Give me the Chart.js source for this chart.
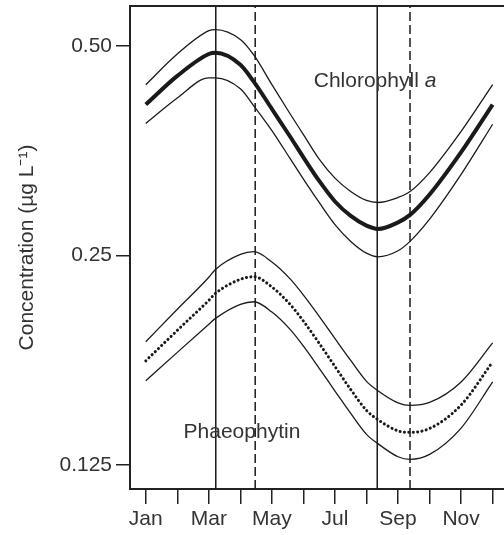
<!DOCTYPE html>
<html><head><meta charset="utf-8">
<script src="https://cdn.jsdelivr.net/npm/chart.js@4/dist/chart.umd.min.js"></script>
<style>html,body{margin:0;padding:0;background:#fff;} #wrap{width:504px;height:535px;position:relative;}</style>
</head><body><div id="wrap"><canvas id="c"></canvas></div>
<script>
// x positions in months (1 = Jan ... 12 = Dec)
const months = [1,2,3,3.21,4,4.43,5,5.57,6,6.5,7,7.5,8,8.36,9,9.38,10,11,12];
const chlMean  = [0.412,0.453,0.487,0.489,0.470,0.444,0.406,0.371,0.346,0.320,0.299,0.285,0.276,0.273,0.279,0.286,0.306,0.352,0.412];
const chlUpper = [0.440,0.487,0.526,0.528,0.511,0.485,0.440,0.400,0.373,0.344,0.323,0.309,0.300,0.298,0.303,0.309,0.329,0.377,0.440];
const chlLower = [0.387,0.421,0.450,0.450,0.434,0.410,0.378,0.345,0.322,0.298,0.277,0.262,0.252,0.249,0.254,0.262,0.282,0.327,0.386];
const phMean  = [0.1765,0.1952,0.2156,0.2206,0.2311,0.2331,0.2253,0.2129,0.2013,0.1870,0.1732,0.1605,0.1498,0.1453,0.1400,0.1393,0.1411,0.1525,0.1759];
const phUpper = [0.1880,0.2093,0.2327,0.2388,0.2510,0.2532,0.2447,0.2316,0.2194,0.2045,0.1900,0.1767,0.1649,0.1599,0.1536,0.1523,0.1538,0.1646,0.1873];
const phLower = [0.1652,0.1815,0.1992,0.2031,0.2128,0.2146,0.2074,0.1960,0.1853,0.1722,0.1597,0.1483,0.1384,0.1342,0.1285,0.1274,0.1295,0.1413,0.1646];
const solidLines  = [3.22, 8.34];   // chlorophyll a max / min
const dashedLines = [4.47, 9.38];   // phaeophytin max / min
const tickMonths = [1,2,3,4,5,6,7,8,9,10,11,12];
const monthNames = ['Jan','','Mar','','May','','Jul','','Sep','','Nov',''];
const yTicks = [0.125, 0.25, 0.5];
const yTickLabels = ['0.125','0.25','0.50'];
const X_MIN = 0.5, X_MAX = 12.36, Y_MIN = 0.1155, Y_MAX = 0.5708;

const FONT = '"Liberation Sans", Arial, Helvetica, sans-serif';
const INK = '#1a1a1a', TXT = '#333';

const pts = arr => arr.map((v,i) => ({x: months[i], y: v}));
const vline = x => [{x, y: Y_MIN}, {x, y: Y_MAX}];
const curve = (data, w, extra) => Object.assign({data: pts(data), borderColor: INK, borderWidth: w,
  pointRadius: 0, fill: false, tension: 0.4, cubicInterpolationMode: 'monotone',
  borderJoinStyle: 'round'}, extra || {});

const datasets = [
  ...solidLines.map(x => ({data: vline(x), borderColor: INK, borderWidth: 1.5, pointRadius: 0, tension: 0})),
  ...dashedLines.map(x => ({data: vline(x), borderColor: INK, borderWidth: 1.5, pointRadius: 0, tension: 0, borderDash: [9,4]})),
  curve(chlUpper, 1.3), curve(chlLower, 1.3), curve(chlMean, 4),
  curve(phUpper, 1.3), curve(phLower, 1.3),
  curve(phMean, 3, {borderDash: [0.1, 4.3], borderCapStyle: 'round'})
];

const annot = {
  id: 'annot',
  afterDraw(chart) {
    const {ctx, chartArea, scales} = chart;
    ctx.save();
    ctx.strokeStyle = '#222'; ctx.lineWidth = 2;
    ctx.beginPath(); ctx.moveTo(chartArea.left - 1, chartArea.top); ctx.lineTo(chartArea.right, chartArea.top); ctx.stroke();
    ctx.fillStyle = TXT; ctx.textBaseline = 'middle';
    // Chlorophyll a
    let cx = scales.x.getPixelForValue(8.27), cy = scales.y.getPixelForValue(0.445);
    ctx.font = '21px ' + FONT; const t1 = 'Chlorophyll '; const w1 = ctx.measureText(t1).width;
    ctx.font = 'italic 21px ' + FONT; const w2 = ctx.measureText('a').width;
    let sx = cx - (w1 + w2) / 2;
    ctx.textAlign = 'left';
    ctx.font = '21px ' + FONT; ctx.fillText(t1, sx, cy);
    ctx.font = 'italic 21px ' + FONT; ctx.fillText('a', sx + w1, cy);
    // Phaeophytin
    ctx.font = '21px ' + FONT; ctx.textAlign = 'center';
    ctx.fillText('Phaeophytin', scales.x.getPixelForValue(4.05), scales.y.getPixelForValue(0.1396));
    ctx.restore();
  }
};

new Chart(document.getElementById('c'), {
  type: 'line',
  data: {datasets},
  plugins: [annot],
  options: {
    responsive: true, maintainAspectRatio: false, animation: false, devicePixelRatio: 1,
    layout: {padding: {left: 11, top: 6, right: 0, bottom: 0}},
    plugins: {legend: {display: false}, tooltip: {enabled: false}},
    scales: {
      x: {
        type: 'linear', min: X_MIN, max: X_MAX,
        afterBuildTicks: s => { s.ticks = tickMonths.map(v => ({value: v})); },
        afterFit: s => { s.height = 46; s.paddingLeft = 0; s.paddingRight = 0; },
        ticks: {callback: (v, i) => monthNames[i], font: {size: 21, family: FONT}, color: TXT,
                padding: 3, maxRotation: 0, autoSkip: false},
        grid: {drawOnChartArea: false, drawTicks: true, tickLength: 15, color: '#222', lineWidth: 1.5},
        border: {display: true, color: '#222', width: 2}
      },
      y: {
        type: 'logarithmic', min: Y_MIN, max: Y_MAX,
        afterBuildTicks: s => { s.ticks = yTicks.map(v => ({value: v})); },
        afterFit: s => { s.width = 119; s.paddingTop = 0; s.paddingBottom = 0; },
        ticks: {callback: (v, i) => yTickLabels[i], font: {size: 21, family: FONT}, color: TXT, padding: 4},
        grid: {drawOnChartArea: false, drawTicks: true, tickLength: 14, color: '#222', lineWidth: 1.5},
        border: {display: true, color: '#222', width: 2},
        title: {display: true, text: 'Concentration (µg L⁻¹)', font: {size: 21, family: FONT}, color: TXT,
                padding: {top: 4, bottom: 4}}
      }
    }
  }
});
</script></body></html>
